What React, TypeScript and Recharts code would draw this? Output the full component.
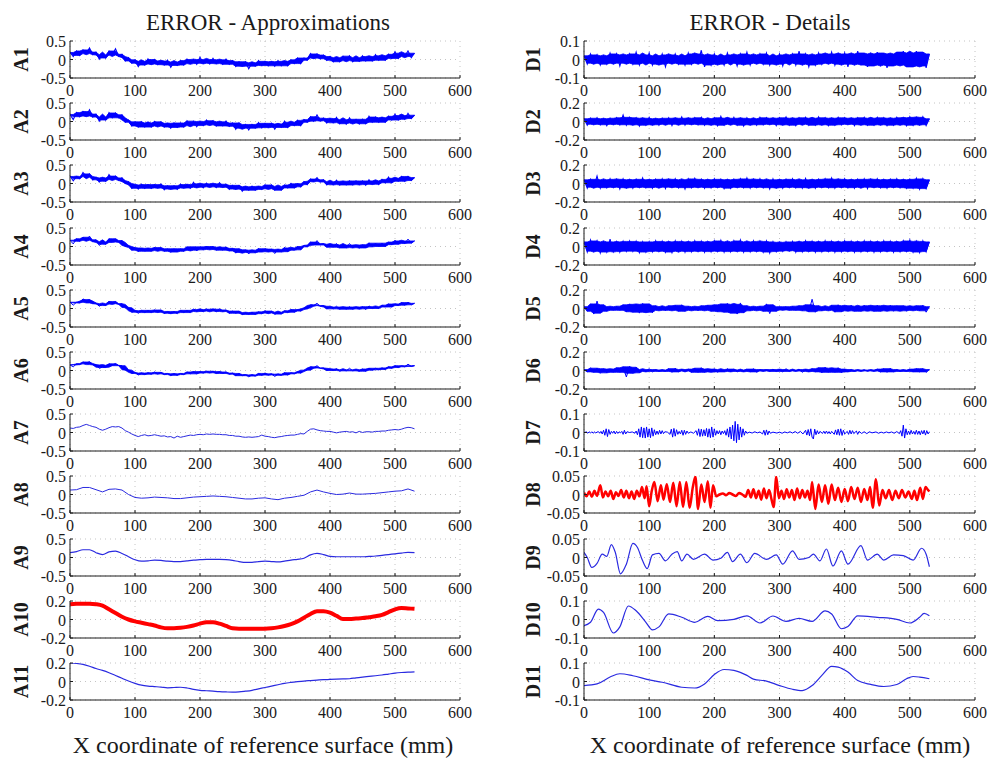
import React from 'react';
import { ComposedChart, Line, Area, XAxis, YAxis, CartesianGrid } from 'recharts';

// sample positions along the surface (mm)
const XS5 = Array.from({ length: 107 }, (_, i) => i * 5);
const XS10 = Array.from({ length: 54 }, (_, i) => i * 10);
const X_TICKS = [0, 100, 200, 300, 400, 500, 600];

const T05 = [-0.5, 0, 0.5];
const T02 = [-0.2, 0, 0.2];
const T01 = [-0.1, 0, 0.1];
const T005 = [-0.05, 0, 0.05];

// approximations, every 5 mm
const A1 = [
  .19, .08, .23, .11, .26, .16, .31, .13, .20, .01,
  .12, .04, .23, .12, .29, .08, .14, -.04, .05, -.10,
  -.01, -.19, -.05, -.15, .02, -.12, .00, -.14, -.04, -.15,
  -.02, -.21, -.07, -.16, -.03, -.15, .01, -.11, .00, -.13,
  .06, -.10, .00, -.12, .03, -.11, -.01, -.13, .01, -.13,
  -.03, -.19, -.06, -.18, -.06, -.25, -.09, -.18, -.03, -.16,
  -.05, -.17, -.06, -.18, -.03, -.17, -.05, -.17, -.01, -.11,
  .04, -.11, .04, -.02, .16, .04, .15, .02, .12, -.02,
  .08, -.06, .05, -.06, .09, -.03, .10, -.06, .05, -.05,
  .10, -.04, .08, -.04, .13, -.02, .10, -.02, .14, .03,
  .21, .03, .17, .08, .23, .05, .17,
];
const A2 = [
  .19, .05, .24, .13, .27, .15, .32, .12, .20, .01,
  .12, .04, .24, .10, .23, .10, .18, -.02, .04, -.12,
  -.01, -.15, -.01, -.15, -.04, -.15, .00, -.12, -.01, -.15,
  -.05, -.18, -.04, -.16, -.04, -.15, .02, -.11, .01, -.14,
  .00, -.11, .04, -.09, .02, -.12, -.01, -.12, .01, -.13,
  -.04, -.21, -.04, -.18, -.08, -.23, -.08, -.18, -.03, -.17,
  -.05, -.16, -.05, -.21, -.07, -.16, .01, -.16, -.02, -.11,
  .03, -.11, .05, -.02, .13, .01, .18, .02, .09, -.04,
  .08, -.03, .11, -.06, .05, -.07, .10, -.04, .06, -.07,
  .06, -.06, .14, -.02, .12, -.02, .10, -.02, .14, .04,
  .20, .04, .16, .06, .22, .08, .17,
];
const A3 = [
  .20, .07, .19, .13, .30, .19, .26, .10, .17, .04,
  .15, .06, .24, .11, .20, .08, .15, .00, .05, -.13,
  -.04, -.15, -.02, -.13, -.03, -.13, -.03, -.12, -.01, -.17,
  -.06, -.15, -.06, -.16, -.02, -.12, -.03, -.13, .03, -.10,
  -.01, -.12, .01, -.09, -.01, -.11, .02, -.10, -.02, -.16,
  -.05, -.15, -.05, -.21, -.09, -.18, -.07, -.18, -.08, -.16,
  -.04, -.14, -.04, -.18, -.08, -.18, -.04, -.12, .00, -.12,
  -.01, -.09, .05, -.03, .12, .06, .16, .04, .10, -.04,
  .05, -.03, .09, -.04, .06, -.04, .07, -.04, .07, -.03,
  .07, -.05, .10, -.02, .07, -.03, .11, .02, .17, .02,
  .14, .06, .19, .06, .19, .08, .16,
];
const A4 = [
  .17, .07, .21, .14, .25, .17, .28, .13, .18, .03,
  .11, .06, .21, .12, .21, .11, .16, .00, .03, -.10,
  -.03, -.14, -.04, -.13, -.05, -.13, -.02, -.11, -.03, -.13,
  -.06, -.16, -.06, -.15, -.06, -.13, -.01, -.10, -.01, -.12,
  -.01, -.09, .01, -.08, .00, -.10, -.02, -.10, -.01, -.12,
  -.05, -.18, -.06, -.16, -.09, -.20, -.10, -.17, -.05, -.15,
  -.06, -.14, -.07, -.19, -.08, -.15, -.02, -.14, -.04, -.10,
  .00, -.09, .03, -.01, .12, .04, .16, .04, .08, -.02,
  .06, -.02, .08, -.04, .04, -.04, .08, -.03, .04, -.05,
  .05, -.04, .10, -.01, .09, .00, .09, .00, .12, .05,
  .17, .06, .15, .08, .20, .09, .15,
];
const A5 = [
  .17, .09, .17, .15, .26, .20, .24, .13, .15, .06,
  .12, .08, .20, .13, .19, .11, .13, .02, .03, -.10,
  -.06, -.13, -.05, -.11, -.05, -.11, -.04, -.10, -.04, -.14,
  -.08, -.13, -.08, -.14, -.05, -.11, -.05, -.11, -.01, -.08,
  -.03, -.09, -.01, -.07, -.02, -.09, -.01, -.08, -.04, -.13,
  -.07, -.13, -.07, -.17, -.11, -.16, -.10, -.16, -.09, -.14,
  -.06, -.12, -.07, -.16, -.10, -.15, -.06, -.11, -.03, -.10,
  -.03, -.07, .02, -.01, .10, .08, .14, .06, .08, -.01,
  .04, -.01, .06, -.02, .04, -.02, .05, -.02, .04, -.01,
  .05, -.03, .07, .00, .05, .00, .09, .04, .13, .04,
  .12, .08, .16, .09, .17, .10, .14,
];
const A6 = [
  .15, .10, .18, .16, .23, .19, .24, .15, .16, .06,
  .09, .08, .18, .14, .19, .13, .13, .02, .01, -.08,
  -.05, -.12, -.07, -.11, -.06, -.10, -.04, -.09, -.05, -.11,
  -.08, -.14, -.09, -.13, -.08, -.11, -.04, -.09, -.03, -.09,
  -.03, -.07, -.02, -.06, -.02, -.08, -.03, -.08, -.04, -.10,
  -.07, -.14, -.08, -.14, -.11, -.17, -.12, -.15, -.08, -.13,
  -.07, -.12, -.09, -.16, -.10, -.13, -.06, -.12, -.06, -.09,
  -.03, -.07, .01, .01, .10, .07, .13, .06, .07, .00,
  .04, .00, .05, -.02, .02, -.01, .06, -.01, .02, -.02,
  .04, -.02, .06, .01, .06, .02, .07, .03, .10, .06,
  .13, .08, .13, .10, .17, .11, .13,
];
const A7 = [
  .12, .11, .14, .15, .19, .22, .19, .16, .14, .09,
  .06, .09, .13, .16, .15, .16, .12, .05, .01, -.04,
  -.08, -.11, -.08, -.06, -.09, -.08, -.06, -.08, -.10, -.09,
  -.12, -.11, -.15, -.10, -.13, -.11, -.09, -.07, -.08, -.06,
  -.05, -.06, -.04, -.05, -.04, -.05, -.05, -.06, -.06, -.08,
  -.08, -.10, -.10, -.12, -.13, -.12, -.13, -.12, -.11, -.07,
  -.10, -.11, -.13, -.14, -.12, -.11, -.09, -.08, -.07, -.07,
  -.05, -.03, -.04, .03, .09, .10, .07, .05, .04, .03,
  .03, .01, -.01, .01, .02, .03, .01, .02, -.01, .03,
  .00, .02, .02, .01, .03, .03, .04, .04, .06, .07,
  .08, .07, .09, .12, .14, .13, .10,
];
// every 10 mm
const A8 = [
  .12, .13, .19, .19, .13, .07, .14, .15, .12, .00,
  -.08, -.10, -.09, -.07, -.08, -.09, -.11, -.11, -.09, -.07,
  -.06, -.05, -.04, -.05, -.06, -.08, -.10, -.12, -.12, -.10,
  -.09, -.12, -.14, -.10, -.08, -.05, -.02, .07, .12, .07,
  .03, .00, .01, .04, .01, .01, .02, .03, .05, .07,
  .09, .10, .15, .09,
];
const A9 = [
  .13, .16, .21, .21, .13, .08, .15, .17, .11, .02,
  -.06, -.10, -.09, -.07, -.08, -.10, -.11, -.11, -.09, -.07,
  -.06, -.05, -.05, -.05, -.06, -.08, -.11, -.13, -.13, -.11,
  -.10, -.11, -.12, -.10, -.07, -.05, -.02, .07, .11, .08,
  .03, .02, .02, .02, .02, .02, .03, .04, .06, .08,
  .10, .12, .14, .13,
];
const A10 = [
  .165, .17, .17, .17, .165, .15, .11, .07, .03, .00,
  -.02, -.035, -.05, -.065, -.085, -.095, -.095, -.09, -.08, -.065,
  -.045, -.03, -.03, -.045, -.07, -.095, -.10, -.10, -.10, -.10,
  -.10, -.095, -.085, -.07, -.05, -.02, .02, .06, .09, .09,
  .075, .04, .005, .005, .01, .015, .025, .035, .05, .08,
  .11, .125, .12, .115,
];
const A11 = [
  .20, .195, .185, .165, .14, .12, .095, .065, .035, .005,
  -.02, -.04, -.05, -.055, -.06, -.068, -.065, -.062, -.07, -.085,
  -.095, -.10, -.105, -.11, -.113, -.115, -.113, -.105, -.095, -.08,
  -.065, -.05, -.035, -.02, -.01, -.002, .005, .01, .015, .02,
  .022, .025, .028, .03, .04, .048, .055, .062, .07, .08,
  .09, .097, .102, .105,
];

// details, every 5 mm
const D1 = [
  .02, -.025, .03, -.02, .025, -.03, .02, -.025, .035, -.02,
  .03, -.035, .025, -.02, .03, -.025, .04, -.03, .025, -.02,
  .035, -.03, .02, -.025, .03, -.04, .025, -.02, .03, -.025,
  .02, -.03, .035, -.025, .03, -.02, .05, -.04, .025, -.03,
  .03, -.025, .02, -.03, .035, -.02, .025, -.035, .03, -.025,
  .04, -.03, .025, -.02, .03, -.025, .035, -.03, .02, -.025,
  .03, -.035, .025, -.02, .03, -.03, .045, -.025, .03, -.04,
  .025, -.03, .035, -.025, .03, -.02, .04, -.03, .03, -.025,
  .035, -.04, .03, -.025, .045, -.03, .035, -.04, .03, -.035,
  .04, -.03, .035, -.045, .03, -.035, .04, -.03, .045, -.04,
  .035, -.04, .045, -.035, .04, -.045, .03,
];
const D2 = [
  .03, -.04, .035, -.03, .04, -.035, .03, -.045, .035, -.03,
  .04, -.035, .07, -.04, .045, -.035, .04, -.05, .035, -.04,
  .045, -.035, .03, -.04, .035, -.03, .04, -.045, .035, -.03,
  .05, -.04, .035, -.03, .04, -.035, .045, -.04, .03, -.035,
  .04, -.045, .055, -.04, .035, -.03, .045, -.04, .035, -.05,
  .04, -.035, .03, -.04, .045, -.035, .04, -.03, .035, -.045,
  .04, -.035, .05, -.04, .035, -.045, .04, -.03, .045, -.04,
  .035, -.04, .05, -.035, .04, -.045, .035, -.04, .045, -.035,
  .04, -.03, .035, -.045, .04, -.035, .045, -.04, .035, -.04,
  .045, -.035, .04, -.045, .035, -.04, .045, -.035, .04, -.045,
  .05, -.04, .045, -.035, .05, -.045, .03,
];
const D3 = [
  .04, -.05, .045, -.04, .08, -.05, .04, -.045, .05, -.04,
  .045, -.06, .05, -.045, .04, -.05, .045, -.04, .06, -.045,
  .04, -.05, .045, -.04, .05, -.055, .045, -.04, .05, -.045,
  .04, -.06, .05, -.045, .055, -.04, .045, -.05, .04, -.045,
  .05, -.04, .045, -.055, .04, -.05, .045, -.04, .05, -.045,
  .06, -.05, .045, -.04, .05, -.045, .04, -.06, .05, -.045,
  .04, -.05, .045, -.04, .05, -.045, .04, -.05, .055, -.045,
  .04, -.05, .045, -.04, .05, -.045, .06, -.05, .045, -.04,
  .05, -.045, .04, -.05, .045, -.04, .05, -.055, .045, -.04,
  .05, -.045, .04, -.05, .045, -.04, .05, -.045, .04, -.05,
  .045, -.05, .055, -.06, .05, -.055, .04,
];
const D4 = [
  .05, -.06, .07, -.05, .06, -.07, .05, -.06, .08, -.055,
  .05, -.06, .055, -.05, .06, -.05, .055, -.065, .05, -.06,
  .05, -.055, .06, -.05, .055, -.06, .05, -.065, .06, -.05,
  .055, -.06, .05, -.055, .06, -.05, .055, -.06, .05, -.055,
  .06, -.05, .065, -.06, .05, -.055, .06, -.05, .07, -.06,
  .05, -.055, .06, -.05, .055, -.06, .06, -.07, .05, -.055,
  .045, -.05, .05, -.045, .055, -.06, .05, -.055, .06, -.05,
  .055, -.06, .05, -.055, .06, -.05, .055, -.06, .05, -.055,
  .06, -.05, .055, -.06, .05, -.055, .06, -.05, .055, -.06,
  .05, -.055, .06, -.05, .055, -.06, .05, -.055, .06, -.05,
  .07, -.06, .055, -.065, .06, -.055, .05,
];
const D5 = [
  .02, -.03, .05, -.06, .08, -.05, .04, -.03, .02, -.02,
  .025, -.02, .04, -.035, .05, -.04, .045, -.05, .055, -.04,
  .05, -.045, .03, -.02, .02, -.025, .03, -.02, .035, -.03,
  .04, -.03, .025, -.02, .02, -.025, .03, -.02, .035, -.03,
  .04, -.035, .05, -.04, .055, -.05, .045, -.06, .06, -.045,
  .03, -.025, .02, -.02, .025, -.03, .05, -.055, .04, -.03,
  .02, -.015, .02, -.02, .025, -.02, .03, -.025, .04, -.035,
  .10, -.04, .03, -.025, .02, -.02, .035, -.04, .04, -.035,
  .03, -.025, .035, -.03, .025, -.03, .035, -.025, .03, -.03,
  .035, -.03, .03, -.025, .035, -.03, .03, -.025, .03, -.03,
  .025, -.02, .03, -.025, .035, -.04, .02,
];
const D6 = [
  .01, -.015, .03, -.02, .025, -.03, .02, -.025, .015, -.02,
  .03, -.02, .04, -.07, .045, -.03, .035, -.025, .01, -.01,
  .02, -.015, .01, -.01, .005, -.01, .02, -.02, .025, -.015,
  .01, -.005, .015, -.02, .025, -.02, .03, -.02, .015, -.015,
  .02, -.02, .01, -.015, .02, -.01, .015, -.015, .005, -.01,
  .015, -.015, .02, -.02, .01, -.005, .01, -.01, .015, -.01,
  .01, -.015, .02, -.01, .005, -.005, .015, -.02, .01, -.01,
  .02, -.015, .03, -.025, .035, -.02, .025, -.02, .03, -.025,
  .015, -.015, .01, -.01, .005, -.005, .01, -.01, .005, -.005,
  .015, -.015, .02, -.02, .025, -.015, .01, -.01, .005, -.01,
  .015, -.015, .02, -.015, .02, -.02, .01,
];
// [x mm, value]
const D7: [number, number][] = [
  [0, 0], [4, .003], [6, -.004], [8, .004], [10, -.003], [12, .004], [14, -.004], [16, .003], [18, -.002], [22, .005],
  [24, -.004], [26, .006], [28, -.008], [30, .012], [32, -.015], [34, .02], [36, -.022], [38, .016], [40, -.01], [42, .006],
  [44, -.004], [46, .008], [48, -.008], [50, .006], [52, -.005], [54, .004], [56, -.002], [58, .006], [60, -.01], [62, .012],
  [64, -.008], [66, .004], [70, 0], [74, .003], [78, -.004], [80, .008], [82, -.012], [84, .02], [86, -.025], [88, .03],
  [90, -.028], [92, .025], [94, -.03], [96, .03], [98, -.025], [100, .02], [102, -.028], [104, .025], [106, -.02], [108, .015],
  [110, -.012], [112, .008], [114, -.01], [116, .012], [118, -.008], [120, .01], [122, -.006], [124, .004], [128, .002], [132, -.01],
  [134, .018], [136, -.025], [138, .022], [140, -.02], [142, .015], [144, -.01], [146, .006], [148, -.008], [150, .012], [152, -.015],
  [154, .012], [156, -.01], [158, .008], [160, -.004], [164, .003], [168, -.004], [172, .01], [174, -.015], [176, .02], [178, -.022],
  [180, .018], [182, -.02], [184, .015], [186, -.018], [188, .022], [190, -.025], [192, .02], [194, -.028], [196, .03], [198, -.025],
  [200, .02], [202, -.015], [204, .01], [206, -.008], [208, .01], [210, -.012], [212, .008], [214, -.006], [216, .01], [218, -.015],
  [220, .02], [222, -.025], [224, .03], [226, -.035], [228, .04], [230, -.045], [232, .06], [234, -.055], [236, .045], [238, -.04],
  [240, .03], [242, -.025], [244, .02], [246, -.015], [248, .008], [250, -.004], [254, .002], [258, -.003], [262, .004], [266, -.002],
  [270, .003], [274, -.008], [276, .012], [278, -.015], [280, .014], [282, -.012], [284, .008], [286, -.004], [290, .002], [296, -.003],
  [300, .002], [304, -.004], [308, .003], [312, -.002], [316, .004], [320, -.003], [324, .005], [328, -.004], [332, .006], [336, -.008],
  [340, .012], [342, -.014], [344, .016], [346, -.018], [348, .02], [350, -.025], [352, -.035], [354, .018], [356, -.012], [358, .01],
  [360, -.008], [362, .006], [366, -.005], [368, .007], [370, -.006], [372, .008], [374, -.006], [376, .005], [378, -.008], [380, .006],
  [384, -.01], [386, .014], [388, -.012], [390, .018], [392, -.015], [394, .02], [396, -.016], [398, .012], [400, -.008], [404, .006],
  [406, -.01], [408, .012], [410, -.008], [412, .01], [414, -.006], [418, .008], [420, -.01], [422, .006], [426, -.005], [430, .004],
  [434, -.006], [438, .004], [442, -.002], [448, .003], [452, -.004], [456, .002], [460, -.003], [464, .003], [468, -.002], [472, .003],
  [476, -.004], [480, .005], [484, -.006], [486, .01], [488, -.02], [490, .04], [492, -.03], [494, .02], [496, -.012], [498, .008],
  [500, -.01], [502, .012], [504, -.008], [506, .006], [508, -.01], [510, .012], [512, -.01], [514, .008], [516, -.012], [518, .01],
  [520, -.008], [522, .012], [524, -.014], [526, .01], [528, -.008], [530, .004],
];
const D8: [number, number][] = [
  [0, .005], [4, -.005], [8, .008], [12, -.006], [16, .01], [20, -.004], [25, .025], [29, -.008], [33, .008], [37, -.005],
  [41, .01], [45, -.012], [49, .006], [53, -.004], [57, .012], [61, -.008], [65, .01], [69, -.01], [73, .008], [77, -.012],
  [81, .01], [85, -.005], [89, .02], [93, -.01], [96, .022], [100, -.032], [104, .01], [108, .034], [113, -.018], [118, .025],
  [122, -.014], [127, .028], [132, -.02], [137, .032], [142, -.032], [147, .034], [152, -.034], [157, .034], [162, -.036], [167, .02],
  [171, .048], [175, -.039], [180, .027], [185, -.02], [190, .036], [194, -.036], [198, .025], [203, -.005], [208, 0], [213, .003],
  [218, -.002], [223, .004], [228, 0], [233, -.004], [238, .004], [243, 0], [248, -.006], [252, .012], [256, -.008], [260, .014],
  [264, -.01], [268, .01], [272, -.014], [276, .016], [280, -.01], [284, .012], [288, -.015], [291, -.034], [295, .048], [299, -.01],
  [303, .01], [307, -.012], [311, .014], [315, -.008], [319, .012], [323, -.015], [327, .016], [331, -.01], [335, .012], [339, -.008],
  [343, .01], [347, -.015], [350, .034], [355, -.039], [360, .027], [365, -.02], [370, .025], [375, -.025], [380, .027], [385, -.015],
  [390, .018], [395, -.02], [400, .015], [405, -.018], [410, .02], [415, -.012], [420, .018], [425, -.02], [430, .015], [435, -.015],
  [439, .02], [443, -.036], [448, .041], [453, -.03], [458, .012], [463, -.01], [468, .012], [473, -.015], [478, .01], [483, -.01],
  [488, .012], [493, -.008], [498, .008], [503, -.012], [507, .01], [511, -.015], [516, .018], [520, -.012], [524, .02], [528, .012],
  [530, .008],
];
const D9: [number, number][] = [
  [0, .014], [5, 0], [12, -.027], [20, -.016], [28, .009], [35, .003], [42, .035], [48, .014], [56, -.044], [65, -.018],
  [75, .038], [82, .027], [90, -.009], [97, -.03], [105, .007], [115, .011], [125, -.009], [135, .009], [143, .016], [150, -.009],
  [158, .009], [168, -.005], [185, .009], [198, -.007], [210, -.002], [220, .014], [228, -.011], [240, .009], [250, -.014], [262, .011],
  [280, -.005], [295, .007], [305, -.018], [320, .018], [330, -.005], [345, 0], [352, .009], [362, -.009], [372, .023], [382, -.023],
  [395, .018], [405, -.018], [425, .032], [435, -.007], [450, .009], [460, -.007], [475, .007], [490, .005], [505, -.007], [518, .025],
  [525, .009], [530, -.025],
];
const D10: [number, number][] = [
  [0, -.033], [10, -.015], [22, .056], [30, .038], [45, -.073], [55, -.04], [68, .073], [80, .047], [95, -.015], [105, -.056],
  [115, -.04], [130, .03], [150, .012], [170, -.015], [190, .017], [205, -.006], [230, .001], [250, .02], [270, -.019], [290, .019],
  [310, -.01], [330, .006], [350, -.01], [370, .047], [380, .03], [395, -.05], [405, -.038], [420, .02], [450, .012], [480, .001],
  [500, -.019], [515, .012], [522, .033], [530, .02],
];
const D11: [number, number][] = [
  [0, -.022], [20, -.013], [40, .024], [55, .042], [75, .031], [100, .009], [120, -.004], [150, -.031], [170, -.035], [185, -.013],
  [200, .038], [215, .065], [230, .06], [250, .033], [260, .013], [280, .002], [300, -.022], [320, -.042], [335, -.049], [350, -.022],
  [365, .033], [380, .082], [390, .078], [405, .051], [420, .005], [440, -.016], [460, -.027], [480, -.016], [495, .015], [505, .027],
  [515, .024], [530, .015],
];

const FONT = '"Liberation Serif", "Times New Roman", serif';
const INK = '#1a1a1a';
const BLUE = '#0000ff';
const SOFT = '#2a2ae0';
const RED = '#ff0000';

const ML = 52;
const MT = 12;
const MR = 15;
const XH = 24;
const PH = 37;
const TOPS = [41, 103, 165, 228, 290, 352, 414, 476, 539, 601, 663];
const LEFT_X = 70;
const LEFT_W = 390;
const RIGHT_X = 584;
const RIGHT_W = 391;

const BottomTick = (p: any) => (
  <g>
    <line x1={p.x} y1={p.y} x2={p.x} y2={p.y - 3} stroke={INK} />
    <text x={p.x} y={p.y + 18} textAnchor="middle" fontFamily={FONT} fontSize={16} fill={INK}>
      {p.payload.value}
    </text>
  </g>
);
const TopTick = (p: any) => <line x1={p.x} y1={p.y} x2={p.x} y2={p.y + 3} stroke={INK} />;
const LeftTick = (p: any) => (
  <g>
    <line x1={p.x} y1={p.y} x2={p.x + 3} y2={p.y} stroke={INK} />
    <text x={p.x - 4} y={p.y + 6} textAnchor="end" fontFamily={FONT} fontSize={16} fill={INK}>
      {p.payload.value}
    </text>
  </g>
);
const RightTick = (p: any) => <line x1={p.x} y1={p.y} x2={p.x - 3} y2={p.y} stroke={INK} />;

const pairs = (pts: [number, number][]) => ({ xs: pts.map((p) => p[0]), ys: pts.map((p) => p[1]) });

// dense core of the noisy signal: 2nd lowest / 2nd highest sample of the 5 around i,
// so the single largest excursions stay visible as spikes of the line on top
const core = (ys: number[], i: number) => {
  const w = ys.slice(Math.max(0, i - 2), i + 3).sort((a, b) => a - b);
  return [w[1], w[w.length - 2]];
};

const Panel = ({ left, top, width, xs, ys, yTicks, color, sw, curve, band }: any) => {
  const data = xs.map((x: number, i: number) => ({ x, y: ys[i], b: band ? core(ys, i) : null }));
  const dom = [yTicks[0], yTicks[yTicks.length - 1]];
  return (
    <div style={{ position: 'absolute', left: left - ML, top: top - MT }}>
      <ComposedChart
        width={ML + width + MR}
        height={MT + PH + XH}
        data={data}
        margin={{ top: MT, right: MR, bottom: 0, left: 0 }}
      >
        <CartesianGrid strokeDasharray="1 4" stroke="#c4c4c4" />
        <XAxis
          dataKey="x" type="number" domain={[0, 600]} ticks={X_TICKS} interval={0}
          height={XH} tickSize={0} tickMargin={0} tickLine={false}
          axisLine={{ stroke: INK }} tick={<BottomTick />} allowDataOverflow
        />
        <XAxis
          xAxisId="top" orientation="top" dataKey="x" type="number" domain={[0, 600]} ticks={X_TICKS}
          interval={0} height={0} tickSize={0} tickMargin={0} tickLine={false}
          axisLine={{ stroke: INK }} tick={<TopTick />}
        />
        <YAxis
          type="number" domain={dom} ticks={yTicks} interval={0} width={ML}
          tickSize={0} tickMargin={0} tickLine={false}
          axisLine={{ stroke: INK }} tick={<LeftTick />} allowDataOverflow
        />
        <YAxis
          yAxisId="r" orientation="right" type="number" domain={dom} ticks={yTicks} interval={0} width={0}
          tickSize={0} tickMargin={0} tickLine={false}
          axisLine={{ stroke: INK }} tick={<RightTick />}
        />
        {band && (
          <Area dataKey="b" type="linear" stroke={color} strokeWidth={0.8} fill={color} fillOpacity={1}
            dot={false} activeDot={false} isAnimationActive={false} />
        )}
        <Line dataKey="y" type={curve} stroke={color} strokeWidth={sw} dot={false} isAnimationActive={false} />
      </ComposedChart>
    </div>
  );
};

const LEFT_PANELS = [
  { name: 'A1', xs: XS5, ys: A1, yTicks: T05, color: BLUE, sw: 1.1, curve: 'linear', band: true },
  { name: 'A2', xs: XS5, ys: A2, yTicks: T05, color: BLUE, sw: 1.1, curve: 'linear', band: true },
  { name: 'A3', xs: XS5, ys: A3, yTicks: T05, color: BLUE, sw: 1.1, curve: 'linear', band: true },
  { name: 'A4', xs: XS5, ys: A4, yTicks: T05, color: BLUE, sw: 1, curve: 'linear', band: true },
  { name: 'A5', xs: XS5, ys: A5, yTicks: T05, color: BLUE, sw: 1, curve: 'linear', band: true },
  { name: 'A6', xs: XS5, ys: A6, yTicks: T05, color: BLUE, sw: 1, curve: 'linear', band: true },
  { name: 'A7', xs: XS5, ys: A7, yTicks: T05, color: SOFT, sw: 1, curve: 'linear' },
  { name: 'A8', xs: XS10, ys: A8, yTicks: T05, color: SOFT, sw: 1, curve: 'linear' },
  { name: 'A9', xs: XS10, ys: A9, yTicks: T05, color: SOFT, sw: 1.2, curve: 'monotone' },
  { name: 'A10', xs: XS10, ys: A10, yTicks: T02, color: RED, sw: 4, curve: 'monotone' },
  { name: 'A11', xs: XS10, ys: A11, yTicks: T02, color: SOFT, sw: 1.2, curve: 'monotone' },
];

const RIGHT_PANELS = [
  { name: 'D1', xs: XS5, ys: D1, yTicks: T01, color: BLUE, sw: 1.1, curve: 'linear', band: true },
  { name: 'D2', xs: XS5, ys: D2, yTicks: T02, color: BLUE, sw: 1.1, curve: 'linear', band: true },
  { name: 'D3', xs: XS5, ys: D3, yTicks: T02, color: BLUE, sw: 1.1, curve: 'linear', band: true },
  { name: 'D4', xs: XS5, ys: D4, yTicks: T02, color: BLUE, sw: 1.1, curve: 'linear', band: true },
  { name: 'D5', xs: XS5, ys: D5, yTicks: T02, color: BLUE, sw: 1, curve: 'linear', band: true },
  { name: 'D6', xs: XS5, ys: D6, yTicks: T02, color: BLUE, sw: 1, curve: 'linear', band: true },
  { name: 'D7', ...pairs(D7), yTicks: T01, color: BLUE, sw: 1, curve: 'linear' },
  { name: 'D8', ...pairs(D8), yTicks: T005, color: RED, sw: 2.5, curve: 'monotone' },
  { name: 'D9', ...pairs(D9), yTicks: T005, color: SOFT, sw: 1.2, curve: 'monotone' },
  { name: 'D10', ...pairs(D10), yTicks: T01, color: SOFT, sw: 1.2, curve: 'monotone' },
  { name: 'D11', ...pairs(D11), yTicks: T01, color: SOFT, sw: 1.2, curve: 'monotone' },
];

export default function App() {
  return (
    <div style={{ position: 'absolute', left: 0, top: 0, width: 990, height: 763, background: '#fff' }}>
      <svg width={990} height={763} style={{ position: 'absolute', left: 0, top: 0 }}>
        <g fontFamily={FONT} fill={INK}>
          <text x={268} y={30} textAnchor="middle" fontSize={23}>ERROR - Approximations</text>
          <text x={770} y={30} textAnchor="middle" fontSize={23}>ERROR - Details</text>
          <text x={263} y={753} textAnchor="middle" fontSize={24}>X coordinate of reference surface (mm)</text>
          <text x={780} y={753} textAnchor="middle" fontSize={24}>X coordinate of reference surface (mm)</text>
          {LEFT_PANELS.map((p, i) => (
            <text key={p.name} transform={`translate(21 ${TOPS[i] + PH / 2}) rotate(-90)`} textAnchor="middle"
              dominantBaseline="central" fontSize={20} fontWeight="bold">{p.name}</text>
          ))}
          {RIGHT_PANELS.map((p, i) => (
            <text key={p.name} transform={`translate(533 ${TOPS[i] + PH / 2}) rotate(-90)`} textAnchor="middle"
              dominantBaseline="central" fontSize={20} fontWeight="bold">{p.name}</text>
          ))}
        </g>
      </svg>
      {LEFT_PANELS.map((p, i) => (
        <Panel key={p.name} left={LEFT_X} top={TOPS[i]} width={LEFT_W} {...p} />
      ))}
      {RIGHT_PANELS.map((p, i) => (
        <Panel key={p.name} left={RIGHT_X} top={TOPS[i]} width={RIGHT_W} {...p} />
      ))}
    </div>
  );
}
